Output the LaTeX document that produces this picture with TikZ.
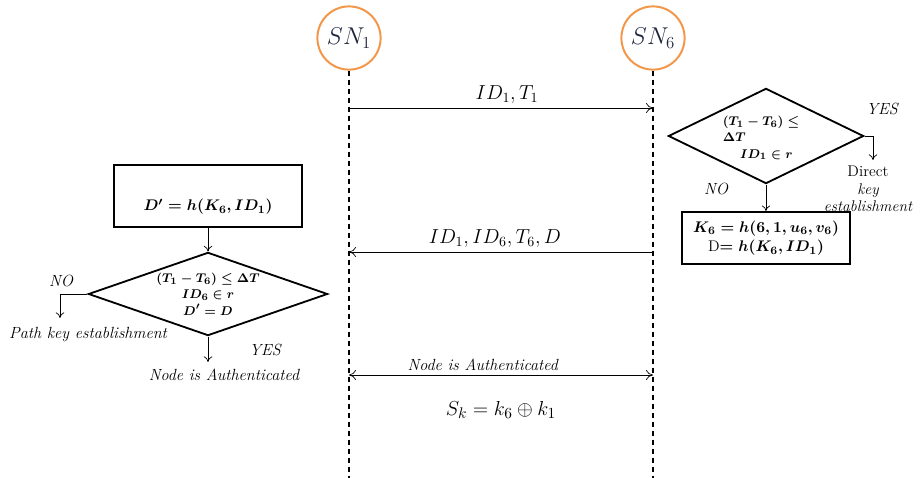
\documentclass[tikz,border=0pt]{standalone}
\usetikzlibrary{shapes.geometric,arrows.meta}
\definecolor{snorange}{RGB}{243,150,72}
\definecolor{sntext}{RGB}{30,38,60}
\tikzset{
  sensor/.style={circle,draw=snorange,line width=1.4pt,fill=white,minimum size=1.58cm,inner sep=0pt,text=sntext,font=\fontsize{17}{20}\selectfont},
  lifeline/.style={line width=1.6pt,dash pattern=on 4pt off 2.4pt},
  msg/.style={-{To[length=5pt,width=7pt]},line width=0.5pt},
  biarrow/.style={{To[length=5pt,width=7pt]}-{To[length=5pt,width=7pt]},line width=0.5pt},
  flow/.style={-{To[length=4pt,width=6pt]},line width=0.5pt},
  procbox/.style={draw,line width=1.3pt,inner sep=0pt,align=center,font=\boldmath\fontsize{11}{14}\selectfont},
  decision/.style={diamond,draw,line width=1.3pt,inner sep=0pt},
  condtext/.style={font=\boldmath\fontsize{9.5}{11.6}\selectfont,inner sep=0pt},
  note/.style={font=\itshape\fontsize{11.5}{13}\selectfont,inner sep=1pt},
  msglabel/.style={font=\fontsize{14}{16}\selectfont,inner sep=3pt},
}
\begin{document}
\begin{tikzpicture}[x=0.025cm,y=-0.025cm]
\useasboundingbox (0,0) rectangle (921,478);
\node[sensor] (sn1) at (349,38) {$SN_1$};
\node[sensor] (sn6) at (653,38) {$SN_6$};
\coordinate (end1) at (349,478);
\coordinate (end6) at (653,478);
\draw[lifeline] (sn1) -- (end1);
\draw[lifeline] (sn6) -- (end6);
\coordinate (m1a) at (349,108);
\coordinate (m1b) at (653,108);
\coordinate (m2a) at (349,252);
\coordinate (m2b) at (653,252);
\coordinate (m3a) at (349,375);
\coordinate (m3b) at (653,375);
\draw[msg] (m1a) -- node[msglabel,above,pos=0.52] {$ID_1,T_1$} (m1b);
\draw[msg] (m2b) -- node[msglabel,above,pos=0.52] {$ID_1,ID_6,T_6,D$} (m2a);
\draw[biarrow] (m3a) -- node[note,above,pos=0.44,yshift=2pt] {Node is Authenticated} (m3b);
\node[msglabel,font=\fontsize{15}{17}\selectfont] (sk) at (501,410) {$S_k=k_6\oplus k_1$};
% right side
\node[decision,minimum width=4.88cm,minimum height=2.38cm] (dec6) at (766,136) {};
\node[condtext,align=left] (cond6) at (761,138) {$(T_1-T_6)\le$\\$\Delta T$\\\hspace{1.3em}$ID_1\in r$};
\coordinate (yes6) at (873,136);
\coordinate (yes6end) at (873,160);
\draw[line width=0.5pt] (dec6.east) -- (yes6);
\draw[flow] (yes6) -- (yes6end);
\node[note] (yeslbl6) at (882,109) {YES};
\node[note,align=center,font=\itshape\fontsize{11}{12.5}\selectfont] (direct) at (868,189) {{\upshape Direct}\\key\\establishment};
\node[note] (nolbl6) at (716,189) {NO};
\node[procbox,minimum width=4.18cm,minimum height=1.3cm] (key6) at (766,238) {$K_6=h(6,1,u_6,v_6)$\\{\upshape\mdseries D}$=h(K_6,ID_1)$};
\draw[flow] (dec6.south) -- (key6.north);
% left side
\node[procbox,minimum width=4.7cm,minimum height=1.55cm] (dbox) at (208,196) {\strut\\$D'=h(K_6,ID_1)$};
\node[decision,minimum width=5.98cm,minimum height=2.08cm] (dec1) at (208,294) {};
\node[condtext,align=center] (cond1) at (208,294) {$(T_1-T_6)\le\Delta T$\\$ID_6\in r$\\$D'=D$};
\draw[flow] (dbox.south) -- (dec1.north);
\coordinate (no1) at (60,294);
\coordinate (no1end) at (60,318);
\draw[line width=0.5pt] (dec1.west) -- (no1);
\draw[flow] (no1) -- (no1end);
\node[note] (nolbl1) at (61,281) {NO};
\node[note] (pathkey) at (88,335) {Path key establishment};
\coordinate (auth1) at (208,362);
\draw[flow] (dec1.south) -- (auth1);
\node[note] (yeslbl1) at (265,350) {YES};
\node[note] (authlbl) at (224,375) {Node is Authenticated};
\end{tikzpicture}
\end{document}
